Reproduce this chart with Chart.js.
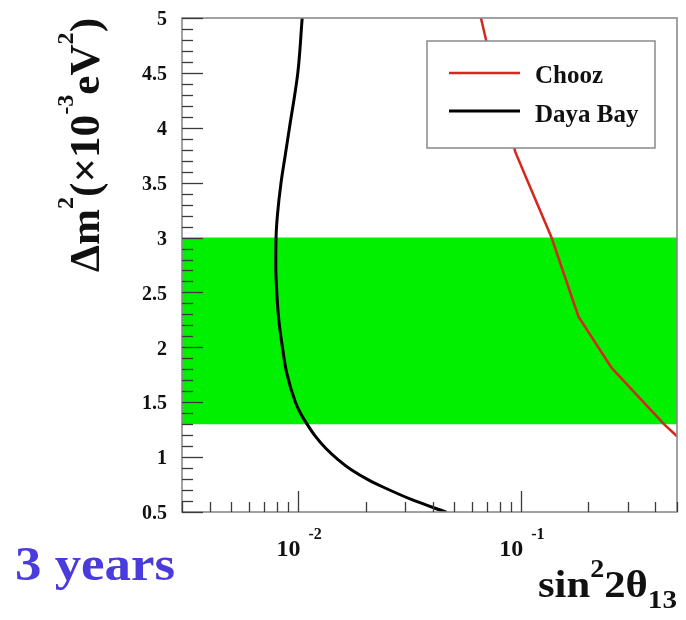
<!DOCTYPE html>
<html>
<head>
<meta charset="utf-8">
<script src="https://cdn.jsdelivr.net/npm/chart.js@4/dist/chart.umd.min.js"></script>
<style>
  html, body { margin: 0; padding: 0; background: #ffffff; }
  #wrap { position: relative; width: 686px; height: 620px; }
</style>
</head>
<body>
<div id="wrap"><canvas id="c" width="686" height="620"></canvas></div>
<script>
// ---- data ----
const seriesNames = ['Chooz', 'Daya Bay'];

// Chooz exclusion contour (sin^2 2theta13 , dm2 in 1e-3 eV^2)
const choozSin2 = [0.0659, 0.0695, 0.094, 0.1054, 0.1367, 0.1806, 0.255, 0.437, 0.5];
const choozDm2  = [5.0, 4.8, 3.78, 3.54, 3.0, 2.28, 1.81, 1.3, 1.19];

// Daya Bay 3-year sensitivity contour
const dayaSin2 = [0.0458, 0.0325, 0.0238, 0.0207, 0.0174, 0.0150, 0.01325, 0.0118, 0.01093, 0.01021, 0.00969, 0.00887, 0.00847, 0.00816, 0.00799, 0.00791, 0.00793, 0.00804, 0.00835, 0.00872, 0.00911, 0.00993, 0.01039];
const dayaDm2  = [0.5, 0.61, 0.73, 0.79, 0.88, 0.98, 1.08, 1.2, 1.3, 1.4, 1.5, 1.76, 2.0, 2.25, 2.5, 2.74, 3.0, 3.2, 3.5, 3.75, 4.0, 4.5, 5.0];

// allowed dm2 band
const bandSin2 = [0.003, 0.5];
const bandLow  = [1.3, 1.3];
const bandHigh = [3.0, 3.0];

// axes
const xRange = [0.003, 0.5];
const yRange = [0.5, 5];
const yTickValues = [0.5, 1, 1.5, 2, 2.5, 3, 3.5, 4, 4.5, 5];
const yTickLabels = ['0.5', '1', '1.5', '2', '2.5', '3', '3.5', '4', '4.5', '5'];
const xTickValues = [0.01, 0.1];
const xTickBase = ['10', '10'];
const xTickExponents = ['-2', '-1'];

const SERIF = '"Liberation Serif", "DejaVu Serif", serif';
const zip = (xs, ys) => xs.map((x, i) => ({ x: x, y: ys[i] }));

function drawParts(ctx, parts, x, y, targetWidth) {
  let total = 0;
  const widths = parts.map(p => {
    ctx.font = 'bold ' + p.size + 'px ' + SERIF;
    const w = ctx.measureText(p.t).width;
    total += w;
    return w;
  });
  const sx = targetWidth ? targetWidth / total : 1;
  ctx.save();
  ctx.translate(x, y);
  ctx.scale(sx, 1);
  let cx = 0;
  parts.forEach((p, i) => {
    ctx.font = 'bold ' + p.size + 'px ' + SERIF;
    ctx.fillText(p.t, cx, p.dy || 0);
    cx += widths[i];
  });
  ctx.restore();
}

const rootStyle = {
  id: 'rootStyle',
  afterDatasetsDraw(chart) {
    const ctx = chart.ctx;
    const ca = chart.chartArea;
    const xs = chart.scales.x, ys = chart.scales.y;
    ctx.save();
    // frame
    ctx.strokeStyle = '#8a8a8a';
    ctx.lineWidth = 1.6;
    ctx.strokeRect(ca.left, ca.top, ca.right - ca.left, ca.bottom - ca.top);

    // y ticks (inside, left)
    ctx.strokeStyle = '#3a3a3a';
    ctx.lineWidth = 1.3;
    for (let k = 0; k <= Math.round((yRange[1] - yRange[0]) / 0.1); k++) {
      const v = yRange[0] + k * 0.1;
      const major = Math.abs(v * 2 - Math.round(v * 2)) < 1e-6;
      const py = Math.round(ys.getPixelForValue(v)) + 0.5;
      ctx.beginPath();
      ctx.moveTo(ca.left, py);
      ctx.lineTo(ca.left + (major ? 21 : 11), py);
      ctx.stroke();
    }
    // x ticks (inside, bottom)
    [0.001, 0.01, 0.1].forEach(d => {
      for (let m = 1; m <= 9; m++) {
        const v = m * d;
        if (v < xRange[0] - 1e-9 || v > xRange[1] + 1e-9) continue;
        const px = Math.round(xs.getPixelForValue(v)) + 0.5;
        ctx.beginPath();
        ctx.moveTo(px, ca.bottom);
        ctx.lineTo(px, ca.bottom - (m === 1 ? 21 : 10));
        ctx.stroke();
      }
    });

    // y tick labels
    ctx.fillStyle = '#111111';
    ctx.font = 'bold 20px ' + SERIF;
    ctx.textAlign = 'right';
    ctx.textBaseline = 'middle';
    yTickValues.forEach((v, i) => {
      ctx.fillText(yTickLabels[i], 167, ys.getPixelForValue(v) + 2);
    });
    // x tick labels 10^n
    ctx.textAlign = 'left';
    ctx.textBaseline = 'alphabetic';
    xTickValues.forEach((v, i) => {
      const px = xs.getPixelForValue(v);
      ctx.font = 'bold 24px ' + SERIF;
      ctx.fillText(xTickBase[i], px - 22, 556);
      ctx.font = 'bold 16px ' + SERIF;
      ctx.fillText(xTickExponents[i], px + 10, 539);
    });

    // axis titles
    ctx.fillStyle = '#111111';
    drawParts(ctx, [
      { t: 'sin', size: 38 },
      { t: '2', size: 25, dy: -20 },
      { t: '2\u03B8', size: 38 },
      { t: '13', size: 26, dy: 11 }
    ], 538, 597, 139);

    ctx.save();
    ctx.translate(99, 272);
    ctx.rotate(-Math.PI / 2);
    drawParts(ctx, [
      { t: '\u0394m', size: 43 },
      { t: '2', size: 24, dy: -26 },
      { t: '(\u00D710', size: 43 },
      { t: '-3', size: 24, dy: -26 },
      { t: 'eV', size: 43 },
      { t: '2', size: 24, dy: -26 },
      { t: ')', size: 43 }
    ], 0, 0, 254);
    ctx.restore();

    // "3 years"
    ctx.fillStyle = '#4a3bdc';
    drawParts(ctx, [{ t: '3 years', size: 48 }], 15, 580, 160);

    // legend
    const lx = 427, ly = 41, lw = 228, lh = 107;
    ctx.fillStyle = '#ffffff';
    ctx.fillRect(lx, ly, lw, lh);
    ctx.strokeStyle = '#8a8a8a';
    ctx.lineWidth = 1.5;
    ctx.strokeRect(lx, ly, lw, lh);
    const rows = [73, 111];
    const bases = [83, 122];
    [0, 1].forEach(i => {
      const ds = chart.data.datasets[i];
      ctx.strokeStyle = ds.borderColor;
      ctx.lineWidth = ds.borderWidth;
      ctx.beginPath();
      ctx.moveTo(449, rows[i]);
      ctx.lineTo(520, rows[i]);
      ctx.stroke();
      ctx.fillStyle = '#111111';
      ctx.font = 'bold 25px ' + SERIF;
      ctx.textAlign = 'left';
      ctx.textBaseline = 'alphabetic';
      ctx.fillText(ds.label, 535, bases[i]);
    });
    ctx.restore();
  }
};

new Chart(document.getElementById('c'), {
  type: 'line',
  data: {
    datasets: [
      {
        label: seriesNames[0],
        data: zip(choozSin2, choozDm2),
        borderColor: '#d7261e', borderWidth: 2.5,
        pointRadius: 0, tension: 0, fill: false, order: 0
      },
      {
        label: seriesNames[1],
        data: zip(dayaSin2, dayaDm2),
        indexAxis: 'y',
        borderColor: '#000000', borderWidth: 3,
        pointRadius: 0, cubicInterpolationMode: 'monotone', fill: false, order: 1,
        borderJoinStyle: 'round', borderCapStyle: 'round'
      },
      {
        label: 'band high',
        data: zip(bandSin2, bandHigh),
        borderWidth: 0, borderColor: 'rgba(0,0,0,0)',
        backgroundColor: '#00f000', pointRadius: 0, fill: '+1', order: 5
      },
      {
        label: 'band low',
        data: zip(bandSin2, bandLow),
        borderWidth: 0, borderColor: 'rgba(0,0,0,0)',
        pointRadius: 0, fill: false, order: 6
      }
    ]
  },
  options: {
    responsive: false,
    animation: false,
    layout: { padding: { left: 182, right: 9, top: 18, bottom: 108 } },
    plugins: { legend: { display: false }, tooltip: { enabled: false } },
    scales: {
      x: { type: 'logarithmic', min: xRange[0], max: xRange[1], display: false },
      y: { type: 'linear', min: yRange[0], max: yRange[1], display: false }
    }
  },
  plugins: [rootStyle]
});
</script>
</body>
</html>
